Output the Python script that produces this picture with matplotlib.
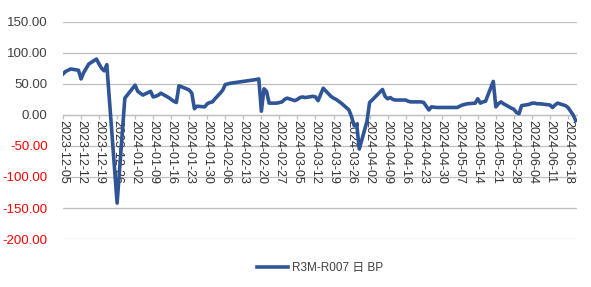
import numpy as np
import pandas as pd
import matplotlib
matplotlib.use('Agg')
import matplotlib.pyplot as plt
import matplotlib.dates as mdates

# R3M-R007 spread, BP
dates = [
    '2023-12-05', '2023-12-06', '2023-12-07', '2023-12-08', '2023-12-11', '2023-12-12',
    '2023-12-13', '2023-12-14', '2023-12-15', '2023-12-18', '2023-12-19', '2023-12-20',
    '2023-12-21', '2023-12-22', '2023-12-26', '2023-12-29', '2024-01-02', '2024-01-03',
    '2024-01-04', '2024-01-05', '2024-01-08', '2024-01-09', '2024-01-10', '2024-01-11',
    '2024-01-12', '2024-01-15', '2024-01-16', '2024-01-17', '2024-01-18', '2024-01-19',
    '2024-01-22', '2024-01-23', '2024-01-24', '2024-01-25', '2024-01-26', '2024-01-29',
    '2024-01-30', '2024-01-31', '2024-02-01', '2024-02-02', '2024-02-04', '2024-02-05',
    '2024-02-06', '2024-02-07', '2024-02-08', '2024-02-18', '2024-02-19', '2024-02-20',
    '2024-02-21', '2024-02-22', '2024-02-23', '2024-02-26', '2024-02-27', '2024-02-28',
    '2024-02-29', '2024-03-01', '2024-03-04', '2024-03-05', '2024-03-06', '2024-03-07',
    '2024-03-08', '2024-03-11', '2024-03-12', '2024-03-13', '2024-03-14', '2024-03-15',
    '2024-03-18', '2024-03-19', '2024-03-20', '2024-03-21', '2024-03-22', '2024-03-25',
    '2024-03-26', '2024-03-27', '2024-03-28', '2024-03-29', '2024-04-01', '2024-04-02',
    '2024-04-03', '2024-04-07', '2024-04-08', '2024-04-09', '2024-04-10', '2024-04-11',
    '2024-04-12', '2024-04-15', '2024-04-16', '2024-04-17', '2024-04-18', '2024-04-19',
    '2024-04-22', '2024-04-23', '2024-04-24', '2024-04-25', '2024-04-26', '2024-04-28',
    '2024-04-29', '2024-04-30', '2024-05-06', '2024-05-07', '2024-05-08', '2024-05-09',
    '2024-05-10', '2024-05-13', '2024-05-14', '2024-05-15', '2024-05-16', '2024-05-17',
    '2024-05-20', '2024-05-21', '2024-05-22', '2024-05-23', '2024-05-24', '2024-05-27',
    '2024-05-28', '2024-05-29', '2024-05-30', '2024-05-31', '2024-06-03', '2024-06-04',
    '2024-06-05', '2024-06-06', '2024-06-07', '2024-06-11', '2024-06-12', '2024-06-13',
    '2024-06-14', '2024-06-17', '2024-06-18', '2024-06-19', '2024-06-20', '2024-06-21',
]
spread_bp = [
    66, 70, 72, 74, 72, 58,
    68, 75, 82, 90, 82, 75,
    71, 81, -142, 27, 48, 38,
    35, 32, 38, 29, 30, 32,
    35, 28, 25, 22, 20, 47,
    42, 40, 35, 10, 14, 13,
    18, 20, 21, 26, 35, 40,
    49, 50, 51, 57, 58, 6,
    42, 38, 19, 19, 20, 21,
    25, 27, 23, 25, 28, 29,
    28, 30, 29, 23, 33, 43,
    30, 27, 25, 22, 19, 8,
    -3, -17, -15, -55, -10, 20,
    24, 41, 30, 26, 28, 25,
    24, 24, 24, 22, 21, 21,
    21, 20, 14, 8, 13, 12,
    12, 12, 12, 14, 16, 17,
    18, 19, 26, 19, 21, 22,
    54, 13, 18, 21, 18, 11,
    9, 4, 2, 15, 17, 19,
    19, 18, 18, 16, 12, 16,
    19, 15, 12, 6, 0, -9,
]
series_label = 'R3M-R007 日 BP'
y_ticks = [150, 100, 50, 0, -50, -100, -150, -200]

x = pd.to_datetime(dates)
tick_dates = pd.date_range('2023-12-05', '2024-06-18', freq='7D')

plt.rcParams['font.family'] = ['Liberation Sans', 'Noto Sans CJK SC', 'DejaVu Sans']

fig = plt.figure(figsize=(5.91, 2.87), dpi=100)
ax = fig.add_axes([0.1066, 0.167, 0.8697, 0.757])

grid_c = '#BFBFBF'
for v in y_ticks:
    ax.axhline(v, color=grid_c, lw=0.9, zorder=1)

ax.plot(x, spread_bp, color='#2F5597', lw=2.6, label=series_label, zorder=3,
        solid_joinstyle='round')

ax.set_ylim(-200, 150)
ax.set_xlim(pd.Timestamp('2023-12-05'), pd.Timestamp('2023-12-05') + pd.Timedelta(days=199.5))
ax.set_yticks(y_ticks)
ax.set_yticklabels(['%.2f' % v for v in y_ticks])
for lbl, v in zip(ax.get_yticklabels(), y_ticks):
    lbl.set_color('#FF0000' if v < 0 else '#404040')
ax.tick_params(axis='y', length=0, pad=11, labelsize=9.5)

ax.set_xticks(tick_dates)
ax.xaxis.set_major_formatter(mdates.DateFormatter('%Y-%m-%d'))
ax.tick_params(axis='x', length=3, width=0.9, color=grid_c, pad=1,
               labelsize=9, labelcolor='#333333', labelrotation=270)

for s in ['top', 'right', 'left']:
    ax.spines[s].set_visible(False)
ax.spines['bottom'].set_position(('data', 0))
ax.spines['bottom'].set_color(grid_c)
ax.spines['bottom'].set_linewidth(0.9)

fig.legend(loc='center', bbox_to_anchor=(0.542, 0.066), frameon=False,
           fontsize=8.5, handlelength=2.6, handletextpad=0.35,
           labelcolor='#404040')

plt.savefig('out.png', dpi=100)
